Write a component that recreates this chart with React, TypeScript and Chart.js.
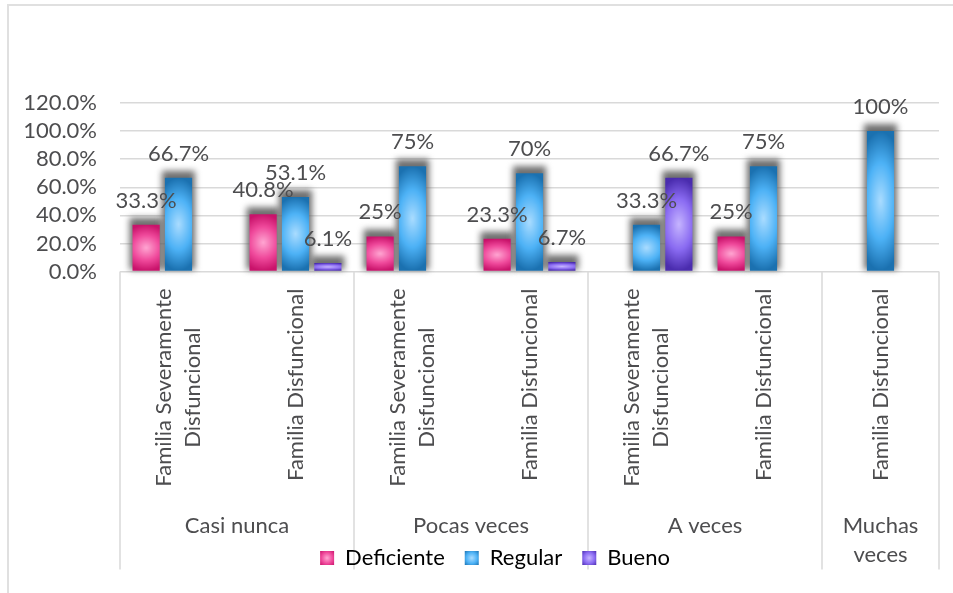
import React, { useEffect, useRef } from 'react';
import { Chart, registerables } from 'chart.js';

Chart.register(...registerables);

// ---------- data ----------
const groupLabels = ['Casi nunca', 'Pocas veces', 'A veces', 'Muchas veces'];
const groupSizes = [2, 2, 2, 1];
const categoryLabels: string[][] = [
  ['Familia Severamente', 'Disfuncional'],
  ['Familia Disfuncional'],
  ['Familia Severamente', 'Disfuncional'],
  ['Familia Disfuncional'],
  ['Familia Severamente', 'Disfuncional'],
  ['Familia Disfuncional'],
  ['Familia Disfuncional'],
];
const seriesNames = ['Deficiente', 'Regular', 'Bueno'];
const deficiente = [33.3, 40.8, 25, 23.3, null, 25, null];
const regular = [66.7, 53.1, 75, 70, 33.3, 75, 100];
const bueno = [null, 6.1, null, 6.7, 66.7, null, null];
const yMin = 0;
const yMax = 120;
const yStep = 20;

// ---------- styles ----------
const FONT = 'Lato, "Open Sans", sans-serif';
const FONT_SIZE = 22;
const TEXT = '#4d4d4f';
const GRID = '#d9d9d9';

type Stop = [number, string];
const PINK: Stop[] = [[0, '#ffa6d2'], [0.55, '#f04a9c'], [1, '#c9136b']];
const BLUE: Stop[] = [[0, '#aadcff'], [0.55, '#4db2f6'], [1, '#1b71b0']];
const PURPLE: Stop[] = [[0, '#c6b5ff'], [0.55, '#8a6bf2'], [1, '#4a2cae']];
const PALETTES = [PINK, BLUE, PURPLE];
const SOLID = ['#e8408f', '#3ea6ee', '#8060ea'];

function hexRgb(h: string) {
  return [parseInt(h.slice(1, 3), 16), parseInt(h.slice(3, 5), 16), parseInt(h.slice(5, 7), 16)];
}

function colorAt(stops: Stop[], t: number) {
  for (let i = 0; i < stops.length - 1; i++) {
    const [t0, c0] = stops[i];
    const [t1, c1] = stops[i + 1];
    if (t <= t1 || i === stops.length - 2) {
      const k = Math.max(0, Math.min(1, (t - t0) / (t1 - t0)));
      const a = hexRgb(c0);
      const b = hexRgb(c1);
      return [a[0] + (b[0] - a[0]) * k, a[1] + (b[1] - a[1]) * k, a[2] + (b[2] - a[2]) * k];
    }
  }
  return hexRgb(stops[stops.length - 1][1]);
}

const gradCache = new Map<string, HTMLCanvasElement>();
function gradientCanvas(w: number, h: number, stops: Stop[], key: string) {
  const k = `${key}-${w}-${h}`;
  const hit = gradCache.get(k);
  if (hit) return hit;
  const off = document.createElement('canvas');
  off.width = w;
  off.height = h;
  const octx = off.getContext('2d')!;
  const img = octx.createImageData(w, h);
  for (let j = 0; j < h; j++) {
    for (let i = 0; i < w; i++) {
      const dx = (i + 0.5 - w / 2) / (w / 2);
      const dy = (j + 0.5 - h / 2) / (h / 2);
      const t = Math.min(1, Math.sqrt(0.3 * dx * dx + dy * dy));
      const c = colorAt(stops, t);
      const p = (j * w + i) * 4;
      img.data[p] = c[0];
      img.data[p + 1] = c[1];
      img.data[p + 2] = c[2];
      img.data[p + 3] = 255;
    }
  }
  octx.putImageData(img, 0, 0);
  gradCache.set(k, off);
  return off;
}

function barFill(c: any, idx: number) {
  const el = c.element;
  const fallback = SOLID[idx];
  if (!el) return fallback;
  const { x, y, base, width } = el;
  if (![x, y, base, width].every((v: any) => Number.isFinite(v)) || width <= 0) return fallback;
  const top = Math.min(y, base);
  const h = Math.abs(base - y);
  if (h < 1) return fallback;
  const w = Math.max(1, Math.round(width));
  const hh = Math.max(1, Math.round(h));
  const off = gradientCanvas(w, hh, PALETTES[idx], String(idx));
  const pat = c.chart.ctx.createPattern(off, 'repeat');
  if (!pat) return fallback;
  pat.setTransform(new DOMMatrix([width / w, 0, 0, h / hh, x - width / 2, top]));
  return pat;
}

function fmt(v: number) {
  return Number.isInteger(v) ? `${v}%` : `${v.toFixed(1)}%`;
}

function wrap(ctx: CanvasRenderingContext2D, text: string, maxW: number) {
  const words = text.split(' ');
  const lines: string[] = [];
  let cur = '';
  words.forEach((w) => {
    const t = cur ? cur + ' ' + w : w;
    if (ctx.measureText(t).width > maxW && cur) {
      lines.push(cur);
      cur = w;
    } else cur = t;
  });
  if (cur) lines.push(cur);
  return lines;
}

const shadowPlugin = {
  id: 'barShadow',
  afterLayout(chart: any) {
    // center the legend the way the reference does
    if (chart.legend) {
      chart.legend.left = 42;
    }
  },
  beforeDatasetsDraw(chart: any) {
    // soft grey halo behind each bar (Excel outer shadow, offset upward)
    const ctx = chart.ctx;
    ctx.save();
    ctx.filter = 'blur(3px)';
    ctx.fillStyle = 'rgba(95,95,95,0.9)';
    chart.data.datasets.forEach((ds: any, di: number) => {
      const meta = chart.getDatasetMeta(di);
      meta.data.forEach((el: any, i: number) => {
        if (ds.data[i] == null) return;
        const { x, y, base, width } = el;
        if (![x, y, base, width].every((v: any) => Number.isFinite(v))) return;
        const top = Math.min(y, base);
        const h = Math.abs(base - y);
        ctx.fillRect(x - width / 2 - 3, top - 7, width + 6, h + 6);
      });
    });
    ctx.restore();
  },
  afterDatasetsDraw(chart: any) {
    const ctx = chart.ctx;
    ctx.save();
    ctx.font = `${FONT_SIZE}px ${FONT}`;
    ctx.fillStyle = TEXT;
    ctx.textAlign = 'center';
    ctx.textBaseline = 'middle';
    chart.data.datasets.forEach((ds: any, di: number) => {
      const meta = chart.getDatasetMeta(di);
      meta.data.forEach((el: any, i: number) => {
        const v = ds.data[i];
        if (v == null) return;
        ctx.fillText(fmt(v), el.x, el.y - 24);
      });
    });
    ctx.restore();
  },
};

const axisPlugin = {
  id: 'multiAxis',
  beforeDraw(chart: any) {
    const ctx = chart.ctx;
    const xs = chart.scales.x;
    const area = chart.chartArea;

    // legend gradient boxes
    const lg = chart.legend;
    if (lg && lg.legendHitBoxes && lg.legendItems) {
      lg.legendItems.forEach((it: any, i: number) => {
        const hb = lg.legendHitBoxes[i];
        if (!hb) return;
        const cx = hb.left + 7;
        const cy = hb.top + hb.height / 2;
        const g = ctx.createRadialGradient(cx, cy, 0, cx, cy, 10);
        const st = PALETTES[i];
        g.addColorStop(0, st[0][1]);
        g.addColorStop(0.55, st[1][1]);
        g.addColorStop(1, st[2][1]);
        it.fillStyle = g;
      });
    }

    ctx.save();
    // group dividers
    ctx.strokeStyle = GRID;
    ctx.lineWidth = 1.5;
    const bounds = [0];
    let acc = 0;
    groupSizes.forEach((s) => {
      acc += s;
      bounds.push(acc);
    });
    bounds.forEach((b) => {
      const px = xs.getPixelForValue(b - 0.5);
      ctx.beginPath();
      ctx.moveTo(px, area.bottom);
      ctx.lineTo(px, area.bottom + 298);
      ctx.stroke();
    });

    ctx.font = `${FONT_SIZE}px ${FONT}`;
    ctx.fillStyle = TEXT;
    ctx.textAlign = 'center';
    ctx.textBaseline = 'middle';

    // inner (rotated) category labels
    categoryLabels.forEach((lines, i) => {
      const cx = xs.getPixelForValue(i);
      const maxW = Math.max(...lines.map((l) => ctx.measureText(l).width));
      const cy = area.bottom + 17 + maxW / 2;
      lines.forEach((line, j) => {
        const lx = cx + (j - (lines.length - 1) / 2) * 29;
        ctx.save();
        ctx.translate(lx, cy);
        ctx.rotate(-Math.PI / 2);
        ctx.fillText(line, 0, 0);
        ctx.restore();
      });
    });

    // group labels
    groupLabels.forEach((g, gi) => {
      const l = xs.getPixelForValue(bounds[gi] - 0.5);
      const r = xs.getPixelForValue(bounds[gi + 1] - 0.5);
      const lines = wrap(ctx, g, r - l - 8);
      lines.forEach((line, j) => {
        ctx.fillText(line, (l + r) / 2, area.bottom + 254 + j * 29);
      });
    });
    ctx.restore();
  },
};

export default function App() {
  const ref = useRef<HTMLCanvasElement | null>(null);
  useEffect(() => {
    const canvas = ref.current;
    if (!canvas) return;
    const seriesData = [deficiente, regular, bueno];
    const chart = new Chart(canvas, {
      type: 'bar',
      data: {
        labels: categoryLabels.map((l) => l.join(' ')),
        datasets: seriesNames.map((name, i) => ({
          label: name,
          data: seriesData[i] as any,
          backgroundColor: (c: any) => barFill(c, i),
          borderWidth: 0,
          barPercentage: 0.84,
          categoryPercentage: 0.83,
        })),
      },
      options: {
        responsive: false,
        animation: false,
        devicePixelRatio: 1,
        events: [],
        layout: { padding: { top: 97, right: 14, left: 6, bottom: 14 } },
        scales: {
          x: {
            ticks: { display: false },
            grid: { display: false },
            border: { display: false },
            afterFit: (s: any) => {
              s.height = 255.5;
            },
          },
          y: {
            min: yMin,
            max: yMax,
            ticks: {
              stepSize: yStep,
              autoSkip: false,
              padding: 23,
              color: TEXT,
              font: { family: FONT, size: FONT_SIZE },
              callback: (v: any) => `${Number(v).toFixed(1)}%`,
            },
            grid: { color: GRID, lineWidth: 1.5, drawTicks: false },
            border: { display: false },
            afterFit: (s: any) => {
              s.width = 105;
            },
          },
        },
        plugins: {
          tooltip: { enabled: false },
          title: { display: false },
          legend: {
            position: 'bottom',
            labels: {
              font: { family: FONT, size: FONT_SIZE },
              color: TEXT,
              boxWidth: 14,
              boxHeight: 14,
              padding: 20,
              generateLabels: (ch: any) =>
                ch.data.datasets.map((ds: any, i: number) => ({
                  text: ds.label,
                  fillStyle: SOLID[i],
                  strokeStyle: 'rgba(0,0,0,0)',
                  lineWidth: 0,
                  hidden: false,
                  datasetIndex: i,
                })),
            },
          },
        },
      } as any,
      plugins: [shadowPlugin, axisPlugin] as any,
    });
    chart.update();
    return () => chart.destroy();
  }, []);

  return (
    <div
      style={{
        position: 'fixed',
        left: 7,
        top: 4,
        width: 946,
        height: 589,
        borderLeft: '2px solid #e0e0e0',
        borderTop: '2px solid #e0e0e0',
        boxSizing: 'border-box',
        background: '#fff',
        overflow: 'hidden',
      }}
    >
      <canvas ref={ref} width={944} height={587} style={{ display: 'block', width: 944, height: 587 }} />
    </div>
  );
}
